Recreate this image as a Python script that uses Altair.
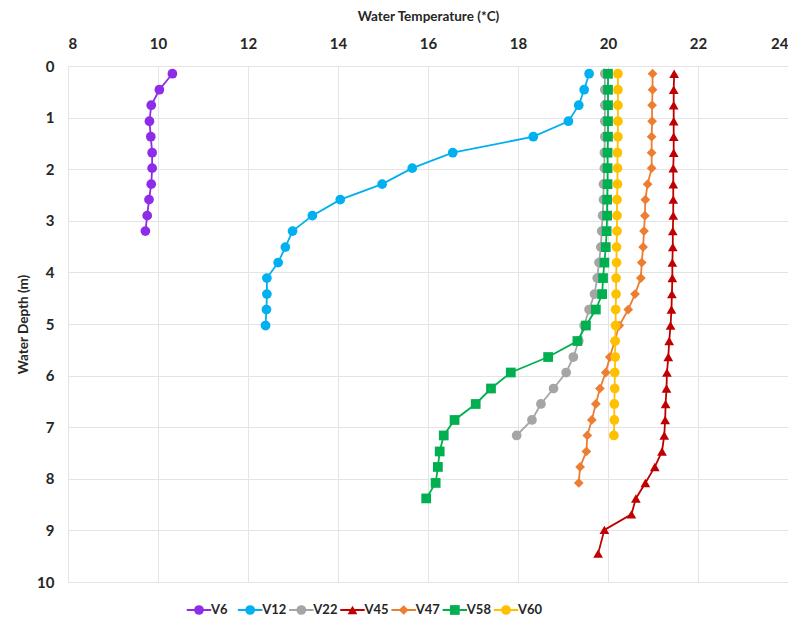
import altair as alt
import pandas as pd

# ---------------- data ----------------
series = ["V6", "V12", "V22", "V45", "V47", "V58", "V60"]
colors = ["#8E2DE8", "#00B0F0", "#A5A5A5", "#C00000", "#ED7D31", "#00B050", "#FFC000"]
shapes = ["circle", "circle", "circle", "triangle-up", "diamond", "square", "circle"]
marker_sizes = [95, 95, 95, 80, 62, 72, 95]

# sampling depths (m)
depths = [0.15, 0.46, 0.76, 1.07, 1.37, 1.68, 1.98, 2.29, 2.59, 2.90, 3.20,
          3.51, 3.81, 4.11, 4.42, 4.72, 5.03, 5.33, 5.64, 5.94, 6.25, 6.55,
          6.86, 7.16, 7.47, 7.77, 8.08, 8.38, 8.69, 8.99, 9.45]

v6 = [10.32, 10.03, 9.85, 9.81, 9.84, 9.87, 9.87, 9.85, 9.80, 9.76, 9.72]
v12 = [19.58, 19.47, 19.35, 19.12, 18.34, 16.55, 15.65, 14.98, 14.05, 13.43,
       12.99, 12.83, 12.67, 12.42, 12.42, 12.41, 12.39]
v22 = [19.93, 19.93, 19.93, 19.93, 19.93, 19.92, 19.92, 19.90, 19.90, 19.88,
       19.86, 19.84, 19.80, 19.76, 19.70, 19.58, 19.47, 19.35, 19.23, 19.07,
       18.79, 18.51, 18.31, 17.97]
v45 = [21.47, 21.46, 21.46, 21.46, 21.46, 21.46, 21.45, 21.45, 21.45, 21.45,
       21.44, 21.44, 21.43, 21.43, 21.42, 21.41, 21.39, 21.36, 21.34, 21.31,
       21.30, 21.28, 21.27, 21.25, 21.20, 21.04, 20.83, 20.62, 20.52, 19.92,
       19.78]
v47 = [20.99, 20.99, 20.98, 20.98, 20.97, 20.97, 20.97, 20.88, 20.83, 20.82,
       20.80, 20.78, 20.75, 20.73, 20.60, 20.45, 20.25, 20.15, 20.04, 19.95,
       19.82, 19.73, 19.64, 19.54, 19.52, 19.38, 19.35]
v58 = [20.00, 20.00, 20.00, 20.00, 20.00, 19.99, 19.99, 19.99, 19.98, 19.98,
       19.97, 19.95, 19.92, 19.89, 19.87, 19.73, 19.51, 19.32, 18.67, 17.84,
       17.40, 17.06, 16.59, 16.35, 16.26, 16.22, 16.17, 15.96]
v60 = [20.22, 20.22, 20.22, 20.22, 20.22, 20.21, 20.21, 20.21, 20.20, 20.20,
       20.20, 20.19, 20.19, 20.18, 20.18, 20.17, 20.17, 20.16, 20.16, 20.15,
       20.15, 20.14, 20.14, 20.13]

temps = {"V6": v6, "V12": v12, "V22": v22, "V45": v45, "V47": v47, "V58": v58, "V60": v60}

x_ticks = [8, 10, 12, 14, 16, 18, 20, 22, 24]
y_ticks = [0, 1, 2, 3, 4, 5, 6, 7, 8, 9, 10]

rows = []
for s in series:
    for i, t in enumerate(temps[s]):
        rows.append({"series": s, "idx": i, "depth": depths[i], "temp": t})
df = pd.DataFrame(rows)

# ---------------- chart ----------------
font = "Lato"
txt = "#262626"

color_scale = alt.Scale(domain=series, range=colors)
shape_scale = alt.Scale(domain=series, range=shapes)
size_scale = alt.Scale(domain=series, range=marker_sizes)

x_enc = alt.X("temp:Q", scale=alt.Scale(domain=[8, 24], nice=False, zero=False),
              axis=alt.Axis(orient="top", values=x_ticks, title="Water Temperature (*C)",
                            labelPadding=14.5, titlePadding=13))
y_enc = alt.Y("depth:Q", scale=alt.Scale(domain=[0, 10], reverse=True, nice=False),
              axis=alt.Axis(values=y_ticks, title="Water Depth (m)",
                            labelPadding=14, titlePadding=6))

base = alt.Chart(df).encode(
    x=x_enc, y=y_enc,
    color=alt.Color("series:N", scale=color_scale, legend=None),
)

layers = []
for s in series:
    sub = base.transform_filter(alt.datum.series == s)
    layers.append(sub.mark_line(strokeWidth=1.8).encode(order=alt.Order("idx:Q")))
    layers.append(sub.mark_point(filled=True, opacity=1).encode(
        shape=alt.Shape("series:N", scale=shape_scale, legend=None),
        size=alt.Size("series:N", scale=size_scale, legend=None),
    ))
main = alt.layer(*layers)

leg_df = pd.DataFrame({"series": series})
leg_x = alt.X("series:N", scale=alt.Scale(type="point", domain=series, range=[131, 438], padding=0),
              axis=None)
leg_base = alt.Chart(leg_df).encode(
    x=leg_x,
    y=alt.value(544),
)
leg_line = leg_base.mark_point(shape="stroke", size=600, strokeWidth=2, filled=False, opacity=1).encode(
    color=alt.Color("series:N", scale=color_scale, legend=None))
leg_mark = leg_base.mark_point(filled=True, opacity=1).encode(
    color=alt.Color("series:N", scale=color_scale, legend=None),
    shape=alt.Shape("series:N", scale=shape_scale, legend=None),
    size=alt.Size("series:N", scale=size_scale, legend=None),
)
leg_text = leg_base.mark_text(align="left", baseline="middle", dx=12, font=font,
                              fontSize=13, fontWeight="bold").encode(
    text="series:N", color=alt.value(txt))
legend = alt.layer(leg_line, leg_mark, leg_text)

chart = alt.layer(main, legend).resolve_scale(x="independent").properties(
    width=720, height=516,
    padding={"left": 8, "top": 1, "right": 0, "bottom": 0},
).configure_view(stroke="#D9D9D9", strokeWidth=1).configure_axis(
    grid=True, gridColor="#E4E4E4", gridWidth=1, domain=False, ticks=False, tickSize=0,
    labelFont=font, labelFontWeight="bold", labelFontSize=15, labelColor=txt,
    titleFont=font, titleFontWeight="bold", titleFontSize=13.5, titleColor=txt,
)

chart.save("out.html", embed_options={"renderer": "svg", "actions": False})
